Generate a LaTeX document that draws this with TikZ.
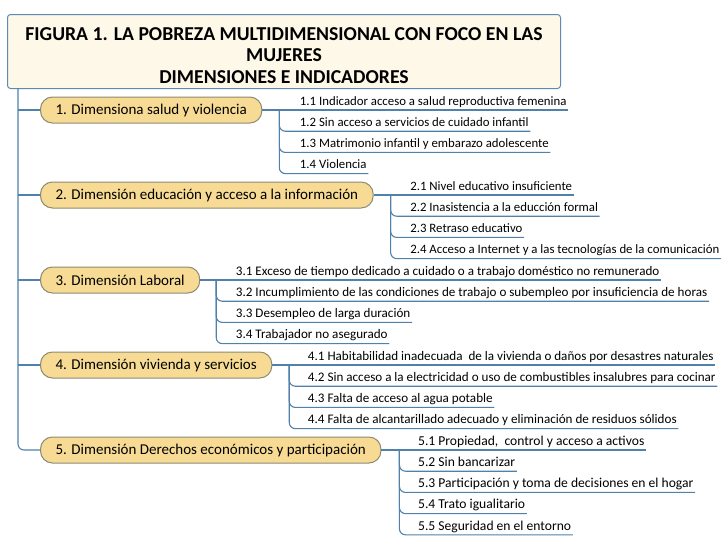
\documentclass[tikz,border=0pt]{standalone}
\usepackage{fontspec}
\setmainfont{Carlito}
\usetikzlibrary{positioning,calc}

\definecolor{linkblue}{HTML}{4F81AB}
\definecolor{titlefill}{HTML}{FDF8E8}
\definecolor{titleline}{HTML}{5C8BB5}
\definecolor{pillfill}{HTML}{F7DB94}
\definecolor{pillline}{HTML}{8C8A72}

\tikzset{
  titlebox/.style={draw=titleline, fill=titlefill, line width=1pt, rounded corners=3pt,
    anchor=north west, minimum width=553pt, minimum height=74pt},
  titletext/.style={align=center, font=\fontsize{19.7}{21.5}\selectfont\bfseries},
  dim/.style={draw=pillline, fill=pillfill, line width=1pt, rounded corners=12pt,
    anchor=west, minimum height=26pt, inner xsep=15pt,
    font=\fontsize{15}{17}\selectfont},
  item/.style={anchor=south west, inner xsep=1.5pt, inner ysep=1.5pt,
    text height=9pt, text depth=3pt, font=\fontsize{#1}{15}\selectfont},
  item/.default=12.8,
  link/.style={draw=linkblue, line width=1.1pt},
  elbow/.style={link, rounded corners=6pt}
}

\begin{document}
\begin{tikzpicture}[x=1pt,y=-1pt]
\useasboundingbox (0,0) rectangle (728,539);
\node[titlebox] (title) at (7,14) {};
\node[titletext] (titlet) at ([yshift=-4pt]title.center) {FIGURA 1. LA POBREZA MULTIDIMENSIONAL CON FOCO EN LAS\\MUJERES\\DIMENSIONES E INDICADORES};
\coordinate (t) at (18,88);

% dimensiones
\node[dim] (d1) at (40,110) {1. Dimensiona salud y violencia};
\node[dim] (d2) at (40,195) {2. Dimensión educación y acceso a la información};
\node[dim] (d3) at (40,280) {3. Dimensión Laboral};
\node[dim] (d4) at (40,365) {4. Dimensión vivienda y servicios};
\node[dim] (d5) at (40,450) {5. Dimensión Derechos económicos y participación};

\draw[link] (t |- d1.west) -- (d1.west);
\draw[link] (t |- d2.west) -- (d2.west);
\draw[link] (t |- d3.west) -- (d3.west);
\draw[link] (t |- d4.west) -- (d4.west);
\draw[elbow] (t) |- (d5.west);

% indicadores 1
\coordinate[right=17pt of d1.east] (b1);
\node[item] (i11) at ($(b1)+(19,0)$) {1.1 Indicador acceso a salud reproductiva femenina};
\node[item] (i12) at ($(b1)+(19,21.2)$) {1.2 Sin acceso a servicios de cuidado infantil};
\node[item] (i13) at ($(b1)+(19,42.4)$) {1.3 Matrimonio infantil y embarazo adolescente};
\node[item] (i14) at ($(b1)+(19,63.6)$) {1.4 Violencia};
\draw[link] (d1.east) -- (i11.south east);
\draw[elbow] (b1) |- (i12.south east);
\draw[elbow] (b1) |- (i13.south east);
\draw[elbow] (b1) |- (i14.south east);

% indicadores 2
\coordinate[right=17pt of d2.east] (b2);
\node[item] (i21) at ($(b2)+(18,0)$) {2.1 Nivel educativo insuficiente};
\node[item] (i22) at ($(b2)+(18,21.2)$) {2.2 Inasistencia a la educción formal};
\node[item] (i23) at ($(b2)+(18,42.4)$) {2.3 Retraso educativo};
\node[item] (i24) at ($(b2)+(18,63.6)$) {2.4 Acceso a Internet y a las tecnologías de la comunicación};
\draw[link] (d2.east) -- (i21.south east);
\draw[elbow] (b2) |- (i22.south east);
\draw[elbow] (b2) |- (i23.south east);
\draw[elbow] (b2) |- (i24.south east);

% indicadores 3
\coordinate[right=16pt of d3.east] (b3);
\node[item=13.1] (i31) at ($(b3)+(18,0)$) {3.1 Exceso de tiempo dedicado a cuidado o a trabajo doméstico no remunerado};
\node[item=13.1] (i32) at ($(b3)+(18,21.2)$) {3.2 Incumplimiento de las condiciones de trabajo o subempleo por insuficiencia de horas};
\node[item=13.1] (i33) at ($(b3)+(18,42.4)$) {3.3 Desempleo de larga duración};
\node[item=13.1] (i34) at ($(b3)+(18,63.6)$) {3.4 Trabajador no asegurado};
\draw[link] (d3.east) -- (i31.south east);
\draw[elbow] (b3) |- (i32.south east);
\draw[elbow] (b3) |- (i33.south east);
\draw[elbow] (b3) |- (i34.south east);

% indicadores 4
\coordinate[right=17pt of d4.east] (b4);
\node[item=13.1] (i41) at ($(b4)+(17,0)$) {4.1 Habitabilidad inadecuada \ de la vivienda o daños por desastres naturales};
\node[item=13.1] (i42) at ($(b4)+(17,21.2)$) {4.2 Sin acceso a la electricidad o uso de combustibles insalubres para cocinar};
\node[item=13.1] (i43) at ($(b4)+(17,42.4)$) {4.3 Falta de acceso al agua potable};
\node[item=13.1] (i44) at ($(b4)+(17,63.6)$) {4.4 Falta de alcantarillado adecuado y eliminación de residuos sólidos};
\draw[link] (d4.east) -- (i41.south east);
\draw[elbow] (b4) |- (i42.south east);
\draw[elbow] (b4) |- (i43.south east);
\draw[elbow] (b4) |- (i44.south east);

% indicadores 5
\coordinate[right=18pt of d5.east] (b5);
\node[item=13.6] (i51) at ($(b5)+(17,0)$) {5.1 Propiedad, \ control y acceso a activos};
\node[item=13.6] (i52) at ($(b5)+(17,21.2)$) {5.2 Sin bancarizar};
\node[item=13.6] (i53) at ($(b5)+(17,42.4)$) {5.3 Participación y toma de decisiones en el hogar};
\node[item=13.6] (i54) at ($(b5)+(17,63.6)$) {5.4 Trato igualitario};
\node[item=13.6] (i55) at ($(b5)+(17,84.8)$) {5.5 Seguridad en el entorno};
\draw[link] (d5.east) -- (i51.south east);
\draw[elbow] (b5) |- (i52.south east);
\draw[elbow] (b5) |- (i53.south east);
\draw[elbow] (b5) |- (i54.south east);
\draw[elbow] (b5) |- (i55.south east);
\end{tikzpicture}
\end{document}
